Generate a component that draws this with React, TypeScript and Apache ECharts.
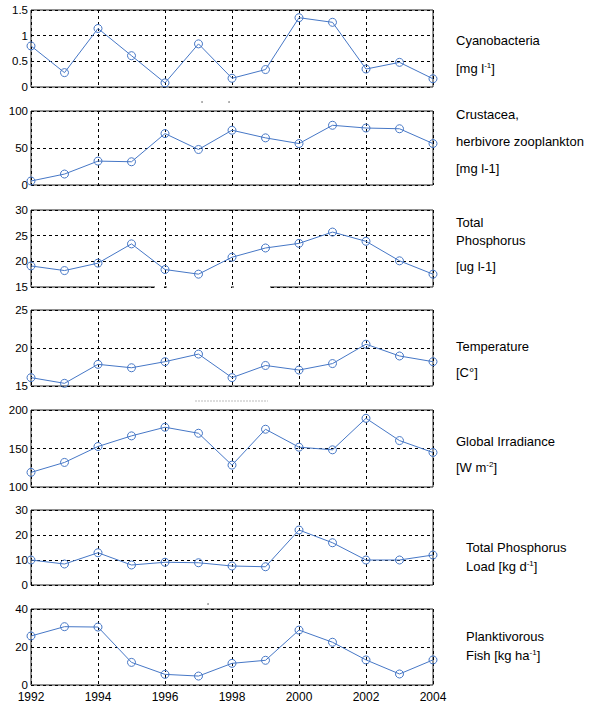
import React, { useEffect, useRef } from "react";
import * as echarts from "echarts";

const years = [1992, 1993, 1994, 1995, 1996, 1997, 1998, 1999, 2000, 2001, 2002, 2003, 2004];
const cyano = [0.8, 0.28, 1.14, 0.61, 0.08, 0.84, 0.17, 0.34, 1.35, 1.26, 0.35, 0.48, 0.16];
const crust = [5.4, 14.8, 32.3, 31.4, 69.5, 48, 74, 63.7, 56, 80.7, 77, 76, 56];
const totalP = [19.1, 18.2, 19.65, 23.4, 18.4, 17.5, 20.8, 22.6, 23.5, 25.7, 23.9, 20.1, 17.5];
const temp = [16.1, 15.35, 17.85, 17.4, 18.2, 19.2, 16.1, 17.7, 17.1, 17.95, 20.5, 18.95, 18.2];
const irradiance = [119, 131.9, 152.6, 166.4, 177.6, 169.8, 128.4, 175, 151.7, 148.3, 189.2, 160.3, 144.8];
const pLoad = [10, 8.4, 12.9, 8, 9.1, 8.9, 7.6, 7.3, 22, 16.9, 10, 10, 12];
const fish = [25.8, 30.7, 30.5, 11.9, 5.6, 4.7, 11.4, 13, 28.9, 22.5, 13.2, 5.8, 13.2];

const seriesData = [cyano, crust, totalP, temp, irradiance, pLoad, fish];
const yMins = [0, 0, 15, 15, 100, 0, 0];
const yMaxs = [1.5, 100, 30, 25, 200, 30, 40];
const yIntervals = [0.5, 50, 5, 5, 50, 10, 20];

const gridTops = [10, 111, 210, 310, 410, 510, 609];
const gridHeights = [77, 74, 77, 76, 77, 75, 76];

const FONT = "'Liberation Sans', Arial, sans-serif";
const LINE = "#4677c6";

export default function App() {
  const ref = useRef<HTMLDivElement>(null);
  useEffect(() => {
    document.body.style.margin = "0";
    const chart = echarts.init(ref.current!, null, { renderer: "svg" });
    const grids = gridTops.map((t, i) => ({
      left: 31,
      right: 176,
      top: t,
      height: gridHeights[i],
      show: true,
      borderColor: "#222",
      borderWidth: 1,
      backgroundColor: "#fff",
      containLabel: false,
      outerBoundsMode: "none",
    }));
    const xAxes = gridTops.map((_, i) => ({
      type: "value",
      gridIndex: i,
      min: 1992,
      max: 2004,
      interval: 2,
      axisLine: { show: false },
      axisTick: { show: false },
      axisLabel: {
        show: i === 6,
        color: "#000",
        fontFamily: FONT,
        fontSize: 12,
        lineHeight: 11,
        margin: 6,
        formatter: (v: number) => String(v),
      },
      splitLine: { show: true, lineStyle: { color: "#000", type: [3, 3], width: 1 } },
    }));
    const yAxes = gridTops.map((_, i) => ({
      type: "value",
      gridIndex: i,
      min: yMins[i],
      max: yMaxs[i],
      interval: yIntervals[i],
      axisLine: { show: false },
      axisTick: { show: false },
      axisLabel: {
        color: "#000",
        fontFamily: FONT,
        fontSize: 11.5,
        lineHeight: 10,
        margin: 3,
      },
      splitLine: { show: true, lineStyle: { color: "#000", type: [3, 3], width: 1 } },
    }));
    const series = seriesData.map((d, i) => ({
      type: "line",
      xAxisIndex: i,
      yAxisIndex: i,
      data: d.map((v, j) => [years[j], v]),
      symbol: "circle",
      symbolSize: 8,
      showAllSymbol: true,
      lineStyle: { color: LINE, width: 1 },
      itemStyle: { color: "transparent", borderColor: LINE, borderWidth: 1 },
      z: 5,
    }));
    const txt = (x: number, y: number, text: string) => ({
      type: "text",
      x,
      y,
      style: {
        text,
        fill: "#000",
        fontFamily: FONT,
        fontSize: 13,
        verticalAlign: "middle",
        rich: { sup: { fontSize: 8, fill: "#000", padding: [0, 0, 6, 0] } },
      },
    });
    const graphic: any[] = [
      txt(456, 40, "Cyanobacteria"),
      txt(456, 68, "[mg l{sup|-1}]"),
      txt(456, 114, "Crustacea,"),
      txt(456, 141, "herbivore zooplankton"),
      txt(456, 168, "[mg l-1]"),
      txt(456, 222, "Total"),
      txt(456, 240, "Phosphorus"),
      txt(456, 266, "[ug l-1]"),
      txt(456, 346, "Temperature"),
      txt(456, 372, "[C°]"),
      txt(456, 441, "Global Irradiance"),
      txt(456, 467, "[W m{sup|-2}]"),
      txt(466, 547, "Total Phosphorus"),
      txt(466, 566, "Load [kg d{sup|-1}]"),
      txt(466, 636, "Planktivorous"),
      txt(466, 655, "Fish [kg ha{sup|-1}]"),
      { type: "rect", shape: { x: 155, y: 286, width: 9, height: 3 }, style: { fill: "#fff" }, z: 100 },
      { type: "rect", shape: { x: 167, y: 286, width: 64, height: 3 }, style: { fill: "#fff" }, z: 100 },
      { type: "rect", shape: { x: 234, y: 286, width: 36, height: 3 }, style: { fill: "#fff" }, z: 100 },
      { type: "circle", shape: { cx: 202, cy: 102, r: 0.8 }, style: { fill: "#888" } },
      { type: "circle", shape: { cx: 229, cy: 102, r: 0.8 }, style: { fill: "#888" } },
      { type: "circle", shape: { cx: 208, cy: 604, r: 0.8 }, style: { fill: "#888" } },
      { type: "line", shape: { x1: 195, y1: 401, x2: 268, y2: 401 }, style: { stroke: "#bbb", lineWidth: 1, lineDash: [2, 1] } },
    ];
    chart.setOption({
      animation: false,
      backgroundColor: "#fff",
      grid: grids,
      xAxis: xAxes,
      yAxis: yAxes,
      series,
      graphic,
    } as any);
    return () => chart.dispose();
  }, []);
  return <div ref={ref} style={{ width: 609, height: 703 }} />;
}
